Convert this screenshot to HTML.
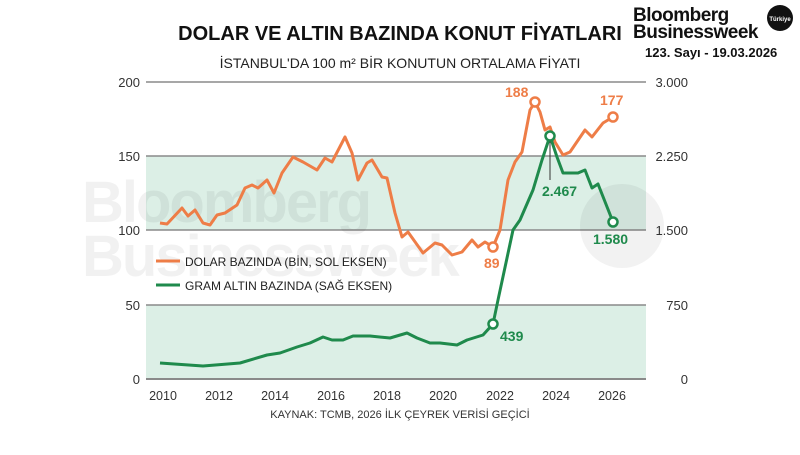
<!DOCTYPE html>
<html><head><meta charset="utf-8"><style>
body{margin:0;width:800px;height:450px;background:#fff;overflow:hidden;font-family:"Liberation Sans",sans-serif}
</style></head><body>
<svg width="800" height="450" viewBox="0 0 800 450" xmlns="http://www.w3.org/2000/svg" font-family="Liberation Sans, sans-serif">
<rect x="146" y="156" width="500" height="74" fill="#dcefe6"/>
<rect x="146" y="305" width="500" height="74" fill="#dcefe6"/>
<g stroke="#8a8a8a" stroke-width="1.5">
<line x1="146" y1="82" x2="646" y2="82"/><line x1="146" y1="156" x2="646" y2="156"/>
<line x1="146" y1="230" x2="646" y2="230"/><line x1="146" y1="305" x2="646" y2="305"/>
<line x1="146" y1="379" x2="646" y2="379" stroke-width="2"/></g>
<g fill="#000" opacity="0.05" font-weight="bold">
<text x="82" y="222" font-size="58" letter-spacing="-2">Bloomberg</text>
<text x="82" y="276" font-size="58" letter-spacing="-2">Businessweek</text>
<circle cx="622" cy="226" r="42"/></g>
<text x="400" y="40" text-anchor="middle" font-size="20" font-weight="bold" fill="#111">DOLAR VE ALTIN BAZINDA KONUT FİYATLARI</text>
<text x="400" y="68" text-anchor="middle" font-size="14" fill="#222">İSTANBUL'DA 100 m² BİR KONUTUN ORTALAMA FİYATI</text>
<text x="633" y="21" font-size="19" font-weight="bold" fill="#111" letter-spacing="-0.5">Bloomberg</text>
<text x="633" y="38" font-size="19" font-weight="bold" fill="#111" letter-spacing="-0.5">Businessweek</text>
<circle cx="780" cy="18" r="13" fill="#111"/><text x="780" y="21" font-size="6" font-weight="bold" fill="#fff" text-anchor="middle">Türkiye</text>
<text x="645" y="57" font-size="13" fill="#111" font-weight="bold">123. Sayı - 19.03.2026</text>
<g font-size="13" fill="#333" text-anchor="end">
<text x="140" y="87">200</text><text x="140" y="161">150</text><text x="140" y="235">100</text><text x="140" y="310">50</text><text x="140" y="384">0</text></g>
<g font-size="13" fill="#333" text-anchor="end">
<text x="688" y="87">3.000</text><text x="688" y="161">2.250</text><text x="688" y="235">1.500</text><text x="688" y="310">750</text><text x="688" y="384">0</text></g>
<g font-size="12.5" fill="#333" text-anchor="middle">
<text x="163" y="400">2010</text><text x="219" y="400">2012</text><text x="275" y="400">2014</text><text x="331" y="400">2016</text><text x="387" y="400">2018</text><text x="443" y="400">2020</text><text x="500" y="400">2022</text><text x="556" y="400">2024</text><text x="612" y="400">2026</text></g>
<text x="400" y="418" text-anchor="middle" font-size="11" fill="#333">KAYNAK: TCMB, 2026 İLK ÇEYREK VERİSİ GEÇİCİ</text>
<polyline fill="none" stroke="#ee7d47" stroke-width="3" stroke-linejoin="round" points="160,223 167,224 182,208 188,216 195,210 203,223 210,225 217,215 225,213 237,205 245,188 252,185 258,188 267,180 274,193 282,173 293,157 303,162 317,170 325,158 332,162 345,137 352,153 358,180 367,163 372,160 382,177 387,178 395,213 402,237 408,232 423,253 435,243 442,245 452,255 462,252 472,240 478,247 485,242 493,247 500,230 508,180 515,162 522,152 530,110 535,102 540,112 545,130 550,127 555,142 563,155 570,152 585,130 592,137 603,123 613,117"/>
<polyline fill="none" stroke="#1f8a4c" stroke-width="3" stroke-linejoin="round" points="160,363 203,366 240,363 267,355 280,353 297,347 310,343 323,337 332,340 343,340 353,336 370,336 390,338 407,333 417,338 430,343 440,343 457,345 467,340 483,335 493,324 498,300 513,230 520,220 533,190 542,160 550,136 557,157 563,173 578,173 585,170 592,188 598,184 613,222"/>
<line x1="550" y1="136" x2="550" y2="180" stroke="#333" stroke-width="1"/>
<g fill="#fff" stroke-width="2.5">
<circle cx="493" cy="247" r="4.5" stroke="#ee7d47"/><circle cx="535" cy="102" r="4.5" stroke="#ee7d47"/><circle cx="613" cy="117" r="4.5" stroke="#ee7d47"/>
<circle cx="493" cy="324" r="4.5" stroke="#1f8a4c"/><circle cx="550" cy="136" r="4.5" stroke="#1f8a4c"/><circle cx="613" cy="222" r="4.5" stroke="#1f8a4c"/></g>
<g font-size="14" font-weight="bold">
<text x="484" y="268" fill="#ee7d47">89</text><text x="505" y="97" fill="#ee7d47">188</text><text x="600" y="105" fill="#ee7d47">177</text>
<text x="500" y="341" fill="#1f8a4c">439</text><text x="542" y="196" fill="#1f8a4c">2.467</text><text x="593" y="244" fill="#1f8a4c">1.580</text></g>
<line x1="156" y1="261" x2="180" y2="261" stroke="#ee7d47" stroke-width="3"/>
<line x1="156" y1="285" x2="180" y2="285" stroke="#1f8a4c" stroke-width="3"/>
<g font-size="12" fill="#222"><text x="185" y="266">DOLAR BAZINDA (BİN, SOL EKSEN)</text><text x="185" y="290">GRAM ALTIN BAZINDA (SAĞ EKSEN)</text></g>
</svg>
</body></html>
